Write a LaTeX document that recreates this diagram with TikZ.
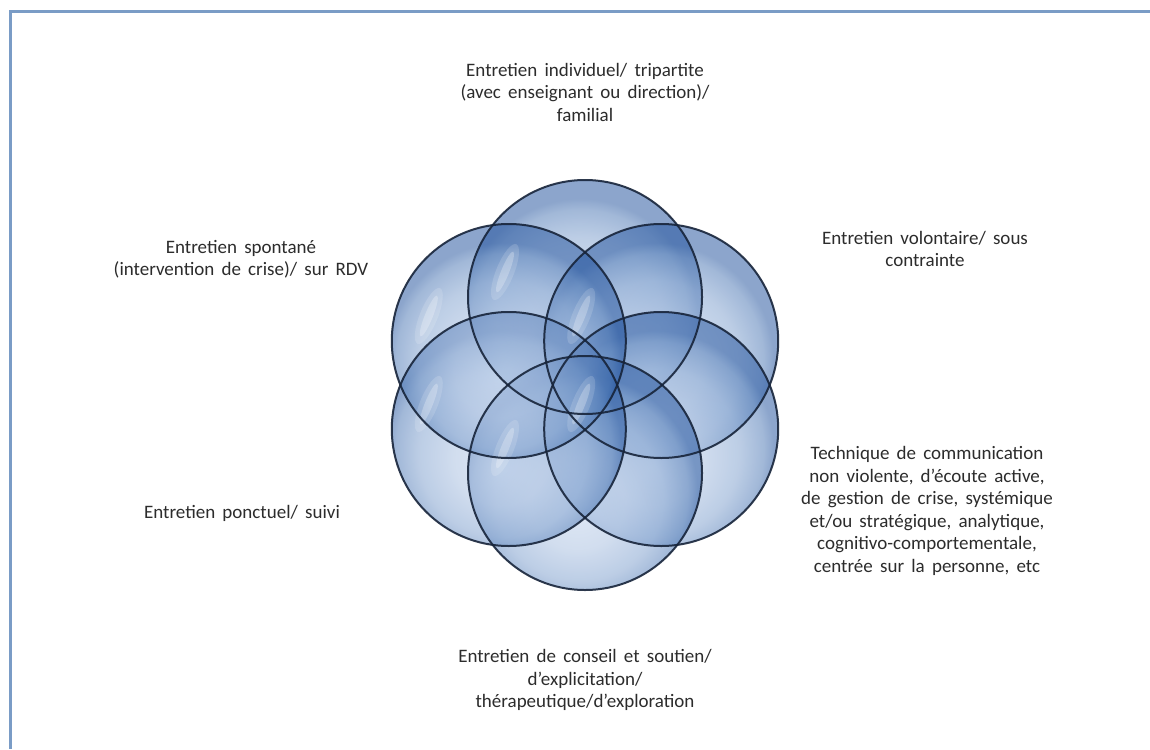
\documentclass[tikz,border=0pt]{standalone}
\usepackage{fontspec}
\setmainfont{Carlito}
\usetikzlibrary{calc}
\definecolor{frameblue}{HTML}{7A9CC6}
\definecolor{edge}{HTML}{17243A}
\definecolor{txt}{HTML}{2C2C2C}
\newcommand\mylabfont{\fontsize{19}{22.5}\selectfont\spaceskip=0.38em\relax}
\pgfdeclareradialshading{bubble}{\pgfpoint{-2bp}{-8bp}}{%
  rgb(0bp)=(0.76,0.83,0.93);
  rgb(10bp)=(0.66,0.75,0.88);
  rgb(18bp)=(0.50,0.63,0.81);
  rgb(23bp)=(0.30,0.47,0.71);
  rgb(25bp)=(0.14,0.33,0.62);
  rgb(50bp)=(0.14,0.33,0.62)}
\begin{document}
\begin{tikzpicture}[x=1pt,y=-1pt,
  lab/.style={align=center,text=txt,font=\mylabfont},
  bub/.style={shading=bubble,fill opacity=0.52},
  gloss/.style={fill=white,opacity=#1}]
\useasboundingbox (0,0) rectangle (1150,749);
\fill[white] (0,0) rectangle (1150,749);
% frame
\draw[frameblue,line width=3pt] (1150,12) -- (10,12) -- (10,749);
% circles
\coordinate (O) at (585,385);
\foreach \a [count=\i] in {90,30,-30,-90,-150,150}{
  \coordinate (c\i) at ($(O)+({88*cos(\a)},{-88*sin(\a)})$);
  \coordinate (h\i) at ($(c\i)+(-80,-25)$);
}
\foreach \i in {1,...,6}{
  \shade[bub] (c\i) circle[radius=117];
}
\foreach \i in {1,...,6}{
  \fill[gloss=0.15,rotate around={68:(h\i)}] (h\i) ellipse[x radius=30,y radius=9];
  \fill[gloss=0.25,rotate around={68:(h\i)}] (h\i) ellipse[x radius=22,y radius=4];
}
\foreach \i in {1,...,6}{
  \draw[edge,line width=2pt,opacity=0.9] (c\i) circle[radius=117];
}
% labels
\node[lab] (t1) at (585,92) {Entretien individuel/ tripartite\\(avec enseignant ou direction)/\\familial};
\node[lab] (t2) at (925,249) {Entretien volontaire/ sous\\contrainte};
\node[lab] (t3) at (927,511) {Technique de communication\\non violente, d’écoute active,\\de gestion de crise, systémique\\et/ou stratégique, analytique,\\cognitivo-comportementale,\\centrée sur la personne, etc};
\node[lab] (t4) at (585,680) {Entretien de conseil et soutien/\\d’explicitation/\\thérapeutique/d’exploration};
\node[lab] (t5) at (242,513) {Entretien ponctuel/ suivi};
\node[lab] (t6) at (241,259) {Entretien spontané\\(intervention de crise)/ sur RDV};
\end{tikzpicture}
\end{document}
